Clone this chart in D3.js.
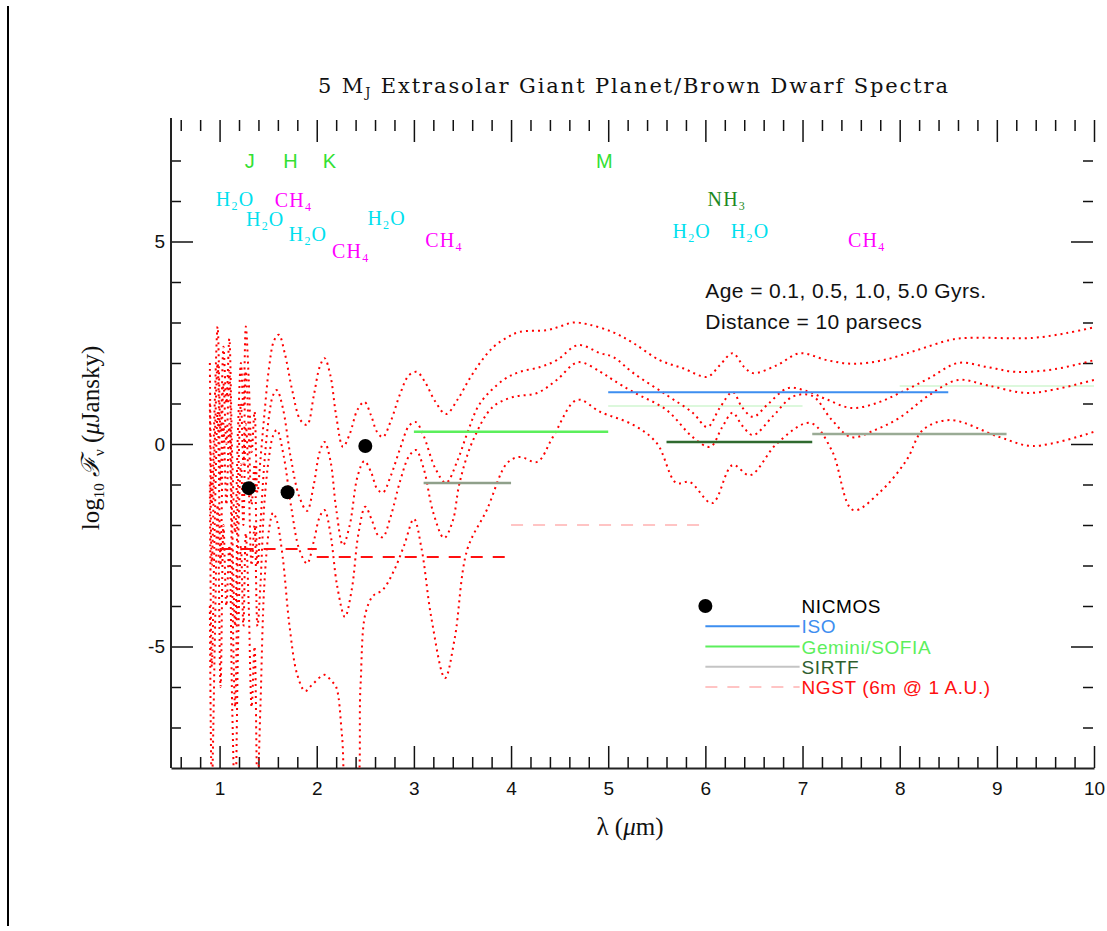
<!DOCTYPE html>
<html>
<head>
<meta charset="utf-8">
<script src="https://cdn.jsdelivr.net/npm/d3@7"></script>
<style>
  body { margin: 0; background: #fff; }
  svg { display: block; }
</style>
</head>
<body>
<svg id="chart" width="1107" height="931"></svg>
<script>
// values: [lambda (um), log10 flux (uJy)]
const ages = ["0.1", "0.5", "1.0", "5.0"];

const spec01 = [[0.90,2.0],[0.92,-1.5],[0.95,1.0],[0.98,2.9],[1.01,0.3],[1.04,2.4],[1.07,1.0],[1.10,2.6],[1.13,-0.3],[1.16,-2.2],[1.19,0.4],[1.22,2.0],[1.245,0.9],[1.27,2.9],[1.30,1.6],[1.33,-0.2],[1.36,0.8],[1.39,-1.2],[1.42,-0.4],[1.46,0.7],[1.51,1.9],[1.56,2.55],[1.61,2.7],[1.67,2.25],[1.75,1.3],[1.83,0.6],[1.90,0.47],[1.97,1.2],[2.03,1.9],[2.08,2.12],[2.14,1.7],[2.20,0.7],[2.27,-0.07],[2.34,0.25],[2.42,0.85],[2.49,1.04],[2.56,0.7],[2.62,0.3],[2.68,0.17],[2.76,0.55],[2.86,1.25],[2.95,1.7],[3.03,1.78],[3.11,1.55],[3.22,1.05],[3.33,0.74],[3.45,1.1],[3.57,1.6],[3.68,2.0],[3.82,2.4],[3.96,2.63],[4.09,2.77],[4.37,2.81],[4.50,2.9],[4.64,3.0],[4.80,2.95],[5.05,2.76],[5.26,2.49],[5.53,2.07],[5.77,1.87],[6.02,1.66],[6.15,1.95],[6.28,2.24],[6.40,1.9],[6.49,1.75],[6.74,1.95],[6.97,2.24],[7.25,2.07],[7.52,1.98],[7.83,2.07],[8.18,2.32],[8.52,2.57],[8.70,2.62],[9.37,2.62],[9.72,2.74],[10.0,2.88]];

const spec05 = [[0.90,1.0],[0.92,-3.0],[0.95,0.0],[0.98,2.0],[1.01,-1.0],[1.04,1.5],[1.07,0.0],[1.10,1.8],[1.13,-2.0],[1.16,-4.5],[1.19,-1.0],[1.22,1.0],[1.245,-0.5],[1.27,1.8],[1.30,0.3],[1.33,-1.5],[1.36,-0.5],[1.39,-3.0],[1.42,-2.0],[1.46,-0.5],[1.51,0.7],[1.55,1.2],[1.59,1.33],[1.65,0.9],[1.73,-0.3],[1.82,-1.3],[1.90,-1.65],[1.97,-1.0],[2.03,-0.2],[2.08,0.05],[2.14,-0.4],[2.20,-1.6],[2.27,-2.5],[2.34,-2.0],[2.42,-0.8],[2.49,-0.42],[2.56,-0.7],[2.62,-1.1],[2.68,-1.2],[2.76,-0.8],[2.86,-0.1],[2.95,0.45],[3.02,0.54],[3.10,0.2],[3.22,-0.6],[3.33,-0.96],[3.45,-0.4],[3.55,0.27],[3.68,1.0],[3.92,1.58],[4.09,1.78],[4.30,1.9],[4.47,2.07],[4.69,2.44],[4.92,2.24],[5.05,2.15],[5.26,1.75],[5.60,1.21],[5.87,0.77],[6.02,0.42],[6.15,0.9],[6.28,1.28],[6.38,0.9],[6.49,0.67],[6.65,1.0],[6.85,1.38],[7.05,1.3],[7.25,1.1],[7.50,0.89],[7.75,1.0],[8.0,1.26],[8.3,1.62],[8.6,2.0],[8.9,1.9],[9.2,1.78],[9.6,1.85],[10.0,2.07]];

const spec10 = [[0.90,-1.0],[0.92,-5.5],[0.95,-2.0],[0.98,0.8],[1.01,-3.0],[1.04,0.5],[1.07,-1.5],[1.10,0.5],[1.13,-3.5],[1.16,-6.5],[1.19,-2.5],[1.22,-0.5],[1.245,-2.0],[1.27,0.5],[1.30,-1.0],[1.33,-3.0],[1.36,-2.0],[1.39,-4.5],[1.42,-3.5],[1.46,-1.5],[1.51,-0.3],[1.55,0.2],[1.59,0.35],[1.66,-0.3],[1.74,-1.6],[1.82,-2.6],[1.90,-2.95],[1.97,-2.4],[2.03,-1.8],[2.08,-1.63],[2.14,-2.2],[2.21,-3.5],[2.29,-4.27],[2.36,-3.6],[2.43,-2.2],[2.50,-1.55],[2.57,-1.9],[2.63,-2.25],[2.68,-2.3],[2.76,-1.8],[2.86,-0.9],[2.95,-0.3],[3.02,-0.15],[3.10,-0.6],[3.20,-1.7],[3.31,-2.32],[3.40,-1.9],[3.47,-0.96],[3.61,0.1],[3.81,0.91],[4.02,1.16],[4.27,1.26],[4.47,1.58],[4.69,2.02],[4.92,1.78],[5.05,1.58],[5.26,1.28],[5.60,0.84],[5.87,0.17],[6.05,-0.07],[6.17,0.4],[6.28,0.77],[6.38,0.45],[6.49,0.22],[6.70,0.7],[6.90,1.17],[7.10,1.19],[7.30,0.6],[7.50,0.17],[7.75,0.35],[8.0,0.65],[8.3,1.2],[8.6,1.58],[8.9,1.45],[9.3,1.26],[9.6,1.35],[10.0,1.58]];

const spec50 = [[0.90,-4.0],[0.92,-8.5],[0.95,-5.0],[0.98,-1.5],[1.01,-6.0],[1.04,-2.0],[1.07,-4.0],[1.10,-2.5],[1.13,-6.5],[1.16,-9.0],[1.19,-5.0],[1.22,-2.5],[1.245,-4.5],[1.27,-2.2],[1.30,-4.0],[1.33,-6.5],[1.36,-5.0],[1.39,-8.5],[1.42,-6.5],[1.46,-3.5],[1.51,-2.1],[1.55,-1.7],[1.59,-1.9],[1.65,-2.8],[1.72,-4.5],[1.80,-5.7],[1.88,-6.1],[1.95,-5.95],[2.08,-5.7],[2.15,-5.85],[2.20,-6.0],[2.26,-7.2],[2.32,-9.0],[2.40,-8.8],[2.45,-6.0],[2.50,-4.2],[2.58,-3.75],[2.68,-3.6],[2.80,-3.1],[2.90,-2.5],[3.0,-1.85],[3.08,-2.6],[3.18,-4.3],[3.32,-5.78],[3.42,-4.8],[3.55,-2.6],[3.75,-1.63],[3.96,-0.47],[4.09,-0.32],[4.27,-0.44],[4.43,0.17],[4.68,1.09],[4.92,0.79],[5.26,0.47],[5.50,0.02],[5.70,-0.96],[5.84,-0.94],[6.07,-1.46],[6.28,-0.52],[6.46,-0.77],[6.74,0.02],[7.08,0.52],[7.30,-0.15],[7.52,-1.63],[7.80,-1.18],[8.07,-0.4],[8.24,0.35],[8.52,0.59],[9.03,0.17],[9.37,-0.05],[10.0,0.3]];

const spectra = [spec01, spec05, spec10, spec50];

// instrument sensitivities: [lambda start, lambda end, log flux]
const nicmosLambda = [1.3, 1.7, 2.5];
const nicmosFlux = [-1.09, -1.19, -0.05];
const isoBands = [[5.0, 8.5, 1.28]];
const geminiBands = [[3.0, 5.0, 0.3]];
const geminiFaintBands = [[5.0, 7.0, 0.94], [8.0, 10.0, 1.43]];
const sirtfBands = [[3.1, 4.0, -0.96, "#8fa08a"], [5.6, 7.1, 0.05, "#2f6a2f"], [7.1, 9.1, 0.25, "#9aab95"]];
const ngstBands = [[1.0, 2.0, -2.59], [2.0, 4.0, -2.79]];
const ngstFaintBands = [[4.0, 6.0, -2.0]];

// labels: [text, lambda, log flux]
const bandLabels = [["J", 1.31, 7.0], ["H", 1.73, 7.0], ["K", 2.13, 7.0], ["M", 4.96, 7.0]];
const waterLabels = [[1.16, 6.02], [1.47, 5.53], [1.91, 5.16], [2.72, 5.56], [5.86, 5.23], [6.46, 5.23]];
const methaneLabels = [[1.76, 6.0], [2.35, 4.74], [3.31, 5.01], [7.66, 5.01]];
const ammoniaLabels = [[6.22, 6.02]];

const xTickLabels = [1, 2, 3, 4, 5, 6, 7, 8, 9, 10];
const yTickLabels = [-5, 0, 5];

const legendNames = ["NICMOS", "ISO", "Gemini/SOFIA", "SIRTF", "NGST (6m @ 1 A.U.)"];

const colors = {
  spectrum: "#ff0000", iso: "#3d8ef0", gemini: "#5cef5c", geminiFaint: "#dcf8dc",
  sirtf: "#bcc4b8", sirtfText: "#2f5f2f", ngst: "#ff1010", ngstFaint: "#ffc4c4",
  water: "#00e0ee", methane: "#ff00ff", ammonia: "#1f8a1f", band: "#33e033"
};

const svg = d3.select("#chart");
const plotLeft = 171, plotRight = 1094, plotTop = 120, plotBottom = 768;

const x = d3.scaleLinear().domain([0.5, 10]).range([plotLeft, plotRight]);
const y = d3.scaleLinear().domain([-8, 8]).range([plotBottom, plotTop]);

// page frame line on the left
svg.append("line")
    .attr("x1", 8).attr("x2", 8).attr("y1", 6).attr("y2", 926)
    .attr("stroke", "#000").attr("stroke-width", 2);

svg.append("defs").append("clipPath").attr("id", "plotclip")
  .append("rect")
    .attr("x", plotLeft).attr("y", plotTop)
    .attr("width", plotRight - plotLeft).attr("height", plotBottom - plotTop);

// --- axes ---
const minorX = d3.range(3, 50).filter(i => i % 5 !== 0).map(i => i / 5);
const minorY = d3.range(-7, 8).filter(v => v % 5 !== 0);

function styleAxis(g, keepDomain) {
  g.selectAll(".tick line").attr("stroke", "#111").attr("stroke-width", 1.5);
  if (keepDomain) g.select(".domain").attr("stroke", "#222").attr("stroke-width", 2);
  else g.select(".domain").remove();
  g.selectAll("text").attr("fill", "#111")
    .style("font-family", "'Liberation Sans', Arial, sans-serif").style("font-size", "19px");
}

svg.append("g").attr("transform", `translate(0,${plotBottom})`)
    .call(d3.axisBottom(x).tickValues(minorX).tickSize(-11).tickSizeOuter(0).tickFormat(""))
    .call(g => styleAxis(g, true));
svg.append("g").attr("transform", `translate(0,${plotBottom})`)
    .call(d3.axisBottom(x).tickValues(xTickLabels).tickSize(-22).tickSizeOuter(0).tickPadding(14))
    .call(g => styleAxis(g, false));

svg.append("g").attr("transform", `translate(0,${plotTop})`)
    .call(d3.axisTop(x).tickValues(minorX).tickSize(-11).tickFormat(""))
    .call(g => styleAxis(g, false));
svg.append("g").attr("transform", `translate(0,${plotTop})`)
    .call(d3.axisTop(x).tickValues(xTickLabels).tickSize(-22).tickFormat(""))
    .call(g => styleAxis(g, false));

svg.append("g").attr("transform", `translate(${plotLeft},0)`)
    .call(d3.axisLeft(y).tickValues(minorY).tickSize(-10).tickSizeOuter(0).tickFormat(""))
    .call(g => styleAxis(g, false));
svg.append("g").attr("transform", `translate(${plotLeft},0)`)
    .call(d3.axisLeft(y).tickValues(yTickLabels).tickSize(-22).tickSizeOuter(0).tickPadding(6)
      .tickFormat(d => d < 0 ? "-" + Math.abs(d) : d))
    .call(g => styleAxis(g, false));
svg.append("line")
    .attr("x1", plotLeft).attr("x2", plotLeft).attr("y1", plotTop - 2).attr("y2", plotBottom)
    .attr("stroke", "#222").attr("stroke-width", 2);

svg.append("g").attr("transform", `translate(${plotRight - 1},0)`)
    .call(d3.axisRight(y).tickValues(minorY).tickSize(-10).tickFormat(""))
    .call(g => styleAxis(g, false));
svg.append("g").attr("transform", `translate(${plotRight - 1},0)`)
    .call(d3.axisRight(y).tickValues(yTickLabels).tickSize(-22).tickFormat(""))
    .call(g => styleAxis(g, false));

// --- plot content ---
const plot = svg.append("g").attr("clip-path", "url(#plotclip)");

function segments(rows, color, width, dash) {
  plot.append("g").selectAll("line")
    .data(rows)
    .join("line")
      .attr("x1", d => x(d[0])).attr("x2", d => x(d[1]))
      .attr("y1", d => y(d[2])).attr("y2", d => y(d[2]))
      .attr("stroke", d => d[3] || color)
      .attr("stroke-width", width)
      .attr("stroke-dasharray", dash || null);
}

segments(geminiFaintBands, colors.geminiFaint, 2);
segments(ngstFaintBands, colors.ngstFaint, 2, "12,10");

const line = d3.line()
    .x(d => x(d[0]))
    .y(d => y(d[1]))
    .curve(d3.curveCatmullRom.alpha(0.5));

plot.append("g").selectAll("path")
  .data(spectra)
  .join("path")
    .attr("d", line)
    .attr("fill", "none")
    .attr("stroke", colors.spectrum)
    .attr("stroke-width", 2)
    .attr("stroke-dasharray", "2,4");

segments(isoBands, colors.iso, 2);
segments(geminiBands, colors.gemini, 2.5);
segments(sirtfBands, colors.sirtf, 2.5);
segments(ngstBands, colors.ngst, 2, "12,10");

plot.append("g").selectAll("circle")
  .data(nicmosLambda)
  .join("circle")
    .attr("cx", d => x(d))
    .attr("cy", (d, i) => y(nicmosFlux[i]))
    .attr("r", 7)
    .attr("fill", "#000");

// --- labels ---
const sans = "'Liberation Sans', Arial, sans-serif";
const serif = "'Liberation Serif', 'Times New Roman', serif";

svg.append("g").selectAll("text")
  .data(bandLabels)
  .join("text")
    .attr("x", d => x(d[1])).attr("y", d => y(d[2]))
    .attr("dy", "0.36em")
    .attr("text-anchor", "middle")
    .attr("fill", colors.band)
    .style("font-family", sans).style("font-size", "20px")
    .text(d => d[0]);

function molecule(rows, base, sub, color) {
  const t = svg.append("g").selectAll("text")
    .data(rows)
    .join("text")
      .attr("x", d => x(d[0])).attr("y", d => y(d[1]) + 6)
      .attr("text-anchor", "middle")
      .attr("fill", color)
      .style("font-family", serif).style("font-size", "20px").style("letter-spacing", "1.2px");
  t.append("tspan").text(base[0]);
  t.append("tspan").attr("dy", 4).style("font-size", "12px").text(sub);
  if (base[1]) t.append("tspan").attr("dy", -4).text(base[1]);
}
molecule(waterLabels, ["H", "O"], "2", colors.water);
molecule(methaneLabels, ["CH", ""], "4", colors.methane);
molecule(ammoniaLabels, ["NH", ""], "3", colors.ammonia);

svg.append("text")
    .attr("x", x(6.0)).attr("y", 298)
    .attr("fill", "#111")
    .style("font-family", sans).style("font-size", "21px").style("letter-spacing", "0.4px")
    .text("Age = " + ages.join(", ") + " Gyrs.");
svg.append("text")
    .attr("x", x(6.0)).attr("y", 329)
    .attr("fill", "#111")
    .style("font-family", sans).style("font-size", "21px").style("letter-spacing", "0.4px")
    .text("Distance = 10 parsecs");

// legend
const legendRows = legendNames.map((name, i) => ({ name, fy: -4 - 0.5 * i }));
const legendColors = ["#000", colors.iso, colors.gemini, colors.sirtfText, colors.ngst];
const legendLines = [null, colors.iso, colors.gemini, "#c4c4c4", colors.ngstFaint];
const legend = svg.append("g");
legend.append("circle")
    .attr("cx", x(6.0)).attr("cy", y(legendRows[0].fy)).attr("r", 7).attr("fill", "#000");
legend.selectAll("line")
  .data(legendRows.slice(1))
  .join("line")
    .attr("x1", x(6.0)).attr("x2", x(6.97))
    .attr("y1", d => y(d.fy)).attr("y2", d => y(d.fy))
    .attr("stroke", (d, i) => legendLines[i + 1])
    .attr("stroke-width", 2)
    .attr("stroke-dasharray", (d, i) => i === 3 ? "12,10" : null);
legend.selectAll("text")
  .data(legendRows)
  .join("text")
    .attr("x", x(6.99)).attr("y", d => y(d.fy) + 7)
    .attr("fill", (d, i) => legendColors[i])
    .style("font-family", sans).style("font-size", "19px").style("letter-spacing", "0.6px")
    .text(d => d.name);

// title
const title = svg.append("text")
    .attr("x", 318).attr("y", 93)
    .attr("textLength", 630).attr("lengthAdjust", "spacing")
    .attr("fill", "#111")
    .style("font-family", "'DejaVu Serif', serif").style("font-size", "21px");
title.append("tspan").text("5 M");
title.append("tspan").attr("dy", 4).style("font-size", "13px").text("J");
title.append("tspan").attr("dy", -4).text(" Extrasolar Giant Planet/Brown Dwarf Spectra");

// axis titles
const xTitle = svg.append("text")
    .attr("x", 630).attr("y", 835)
    .attr("text-anchor", "middle").attr("fill", "#111")
    .style("font-family", serif).style("font-size", "25px");
xTitle.append("tspan").text("λ (");
xTitle.append("tspan").style("font-style", "italic").text("μ");
xTitle.append("tspan").text("m)");

const yTitle = svg.append("text")
    .attr("transform", "translate(99,438) rotate(-90)")
    .attr("text-anchor", "middle").attr("fill", "#111")
    .style("font-family", serif).style("font-size", "25px");
yTitle.append("tspan").text("log");
yTitle.append("tspan").attr("dy", 5).style("font-size", "15px").text("10");
yTitle.append("tspan").attr("dy", -5).text(" ");
yTitle.append("tspan").style("font-style", "italic").text("ℱ");
yTitle.append("tspan").attr("dy", 5).style("font-size", "15px").text("ν");
yTitle.append("tspan").attr("dy", -5).text(" (");
yTitle.append("tspan").style("font-style", "italic").text("μ");
yTitle.append("tspan").text("Jansky)");
</script>
</body>
</html>
